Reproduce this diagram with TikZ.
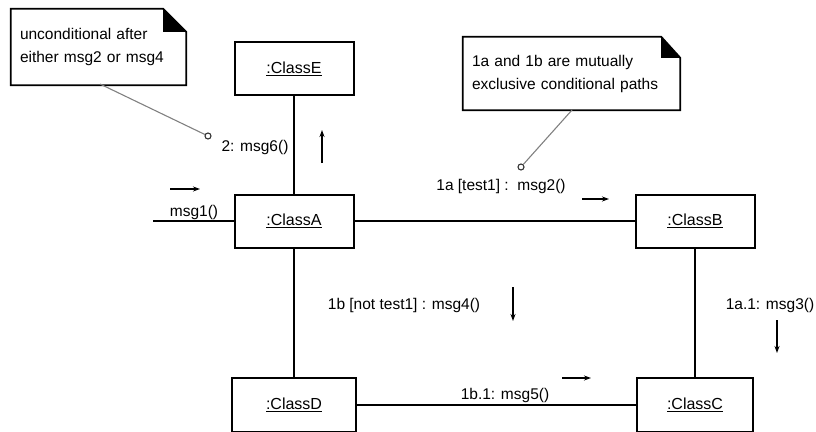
\documentclass[tikz,border=0pt]{standalone}
\usepackage{fontspec}
\setmainfont{Liberation Sans}
\usetikzlibrary{arrows.meta,calc}

\tikzset{
  classbox/.style={draw, line width=2pt, fill=white, minimum width=119pt,
    minimum height=53pt, inner sep=0pt, font=\fontsize{16}{18}\selectfont},
  link/.style={line width=2.1pt},
  msgarrow/.style={line width=1.4pt, -{Stealth[length=7pt,width=5pt]}},
  msglabel/.style={inner sep=0pt, font=\fontsize{15.5}{18}\selectfont},
  notebox/.style={minimum width=175pt, minimum height=76pt, inner sep=0pt,
    text width=157pt, align=left, font=\fontsize{15.5}{23}\selectfont},
  noteline/.style={line width=1.8pt},
  anchorline/.style={gray, line width=1.1pt},
  anchordot/.style={draw=black!80, line width=1.1pt, fill=white, circle,
    inner sep=0pt, minimum size=6pt},
}

\begin{document}
\begin{tikzpicture}[x=1pt, y=-1pt]
  \useasboundingbox (0,0) rectangle (816,431);

  % objects
  \node[classbox] (E) at (294,68.5) {\underline{:ClassE}};
  \node[classbox] (A) at (294,221)  {\underline{:ClassA}};
  \node[classbox] (B) at (695,221)  {\underline{:ClassB}};
  \node[classbox, minimum width=124pt, minimum height=54pt] (D) at (294,405) {\underline{:ClassD}};
  \node[classbox, minimum width=116pt, minimum height=54pt] (C) at (695,405) {\underline{:ClassC}};

  % links
  \coordinate (in) at (153,221);
  \draw[link] (in) -- (A.west);
  \draw[link] (A.north) -- (E.south);
  \draw[link] (A.east) -- (B.west);
  \draw[link] (A.south) -- (D.north);
  \draw[link] (B.south) -- (C.north);
  \draw[link] (D.east) -- (C.west);

  % messages
  \node[msglabel] (m1) at (194,212) {msg1()};
  \coordinate (m1a) at (170,189); \coordinate (m1b) at (200,189);
  \draw[msgarrow] (m1a) -- (m1b);

  \node[msglabel] (m6) at (255,147) {2: msg6()};
  \coordinate (m6a) at (322,163); \coordinate (m6b) at (322,130);
  \draw[msgarrow] (m6a) -- (m6b);

  \node[msglabel] (m2) at (501,186) {1a [test1] :\ \ msg2()};
  \coordinate (m2a) at (582,199); \coordinate (m2b) at (609,199);
  \draw[msgarrow] (m2a) -- (m2b);

  \node[msglabel] (m4) at (404,305) {1b [not test1] : msg4()};
  \coordinate (m4a) at (513,287); \coordinate (m4b) at (513,321);
  \draw[msgarrow] (m4a) -- (m4b);

  \node[msglabel] (m3) at (770,305) {1a.1: msg3()};
  \coordinate (m3a) at (777,320); \coordinate (m3b) at (777,353);
  \draw[msgarrow] (m3a) -- (m3b);

  \node[msglabel] (m5) at (505,395) {1b.1: msg5()};
  \coordinate (m5a) at (562,378); \coordinate (m5b) at (591,378);
  \draw[msgarrow] (m5a) -- (m5b);

  % note about message 2
  \node[notebox] (n1) at (98.5,47) {unconditional after\\either msg2 or msg4};
  \draw[noteline] (n1.north west) -- ($(n1.north east)+(-23,0)$)
    -- ($(n1.north east)+(0,23)$) -- (n1.south east) -- (n1.south west) -- cycle;
  \fill ($(n1.north east)+(-23,0)$) -- ($(n1.north east)+(-23,23)$)
    -- ($(n1.north east)+(0,23)$) -- cycle;
  \node[anchordot] (d1) at (208,136) {};
  \draw[anchorline] (100,84) -- (d1);

  % note about the conditional paths
  \node[notebox, minimum width=217pt, minimum height=73pt, text width=199pt]
    (n2) at (571.5,73.5) {1a and 1b are mutually\\exclusive conditional paths};
  \draw[noteline] (n2.north west) -- ($(n2.north east)+(-19,0)$)
    -- ($(n2.north east)+(0,21)$) -- (n2.south east) -- (n2.south west) -- cycle;
  \fill ($(n2.north east)+(-19,0)$) -- ($(n2.north east)+(-19,21)$)
    -- ($(n2.north east)+(0,21)$) -- cycle;
  \node[anchordot] (d2) at (521,167) {};
  \draw[anchorline] (572,110) -- (d2);
\end{tikzpicture}
\end{document}
